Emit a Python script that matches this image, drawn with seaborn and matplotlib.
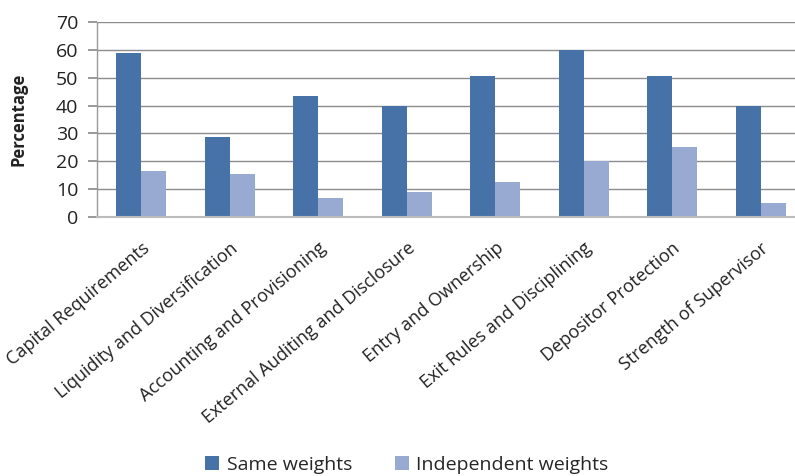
import matplotlib
matplotlib.use("Agg")
import matplotlib.pyplot as plt
import seaborn as sns
import pandas as pd

categories = ["Capital Requirements", "Liquidity and Diversification",
              "Accounting and Provisioning", "External Auditing and Disclosure",
              "Entry and Ownership", "Exit Rules and Disciplining",
              "Depositor Protection", "Strength of Supervisor"]
same_weights = [59.0, 28.6, 43.6, 40.0, 50.7, 60.0, 50.7, 40.0]
independent_weights = [16.6, 15.3, 6.7, 9.1, 12.7, 20.1, 25.0, 4.9]
series_names = ["Same weights", "Independent weights"]
yticks = [0, 10, 20, 30, 40, 50, 60, 70]

df = pd.DataFrame({
    "Category": categories * 2,
    "Series": [series_names[0]] * len(categories) + [series_names[1]] * len(categories),
    "Value": same_weights + independent_weights,
})

sns.set_theme(style="white")
plt.rcParams['font.family'] = ['Open Sans', 'DejaVu Sans']

fig = plt.figure(figsize=(7.95, 4.76), dpi=100)
ax = fig.add_axes([97 / 795, 1 - 217 / 476, 708 / 795, 195 / 476])

palette = {"Same weights": "#4672A8", "Independent weights": "#98AAD1"}
sns.barplot(data=df, x="Category", y="Value", hue="Series", palette=palette,
            width=0.566, ax=ax, saturation=1, legend=True, edgecolor="none")

ax.set_ylim(0, 70)
ax.set_xlim(-0.5, len(categories) - 0.5)
ax.set_yticks(yticks)
ax.set_yticklabels([str(t) for t in yticks], fontsize=14, color="#222222")
ax.yaxis.grid(True, color="#8c8c8c", linewidth=1.0)
ax.set_axisbelow(True)
for s in ["top", "right"]:
    ax.spines[s].set_visible(False)
ax.spines["left"].set_color("#9a9a9a")
ax.spines["bottom"].set_color("#bbbbbb")
ax.spines["left"].set_linewidth(1.0)
ax.spines["bottom"].set_linewidth(1.5)
ax.tick_params(axis="y", length=6.5, color="#8c8c8c", pad=7, left=True)
ax.tick_params(axis="x", length=0, pad=16)

ax.set_xticks(range(len(categories)))
ax.set_xticklabels(categories, rotation=40, ha="right", va="top",
                   rotation_mode="anchor", fontsize=13, color="#222222")
ax.set_xlabel("")
ax.set_ylabel("Percentage", fontsize=12, fontweight="bold", color="#222222")
ax.yaxis.set_label_coords((28 - 97) / 708, 0.5)

ax.legend_.remove()
handles, labels = ax.get_legend_handles_labels()
fig.legend(handles[:2], labels[:2], loc="center", bbox_to_anchor=(407 / 795, 1 - 465 / 476),
           ncol=2, frameon=False, fontsize=14, handlelength=0.7, handleheight=0.7,
           columnspacing=2.2, handletextpad=0.4)

fig.savefig("out.png", dpi=100)
